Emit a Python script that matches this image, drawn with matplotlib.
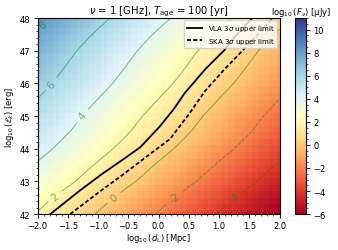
import numpy as np
import matplotlib
matplotlib.use('Agg')
import matplotlib.pyplot as plt
from matplotlib.lines import Line2D

# log10 flux [uJy] at d_L = 1 Mpc, read along the energy axis
log_E = np.round(np.arange(42.0, 48.01, 0.2), 1)
log_F_1Mpc = np.array([-2.10, -1.86, -1.62, -1.35, -1.05, -0.75, -0.51, -0.27,
                       -0.02, 0.24, 0.50, 0.72, 0.94, 1.14, 1.30, 1.47, 1.67,
                       1.87, 2.07, 2.28, 2.48, 2.65, 2.82, 2.98, 3.14, 3.30,
                       3.50, 3.70, 3.92, 4.16, 4.40])
log_d = np.round(np.arange(-2.0, 2.01, 0.1), 1)

# upper-limit curves (log d_L, log E)
vla_d = [-1.79, -1.30, -0.94, -0.55, -0.30, 0.02, 0.25, 0.44, 0.78, 1.10, 1.20, 1.55]
vla_E = [42.0, 42.72, 43.22, 43.72, 44.05, 44.68, 45.21, 45.72, 46.45, 47.04, 47.30, 48.0]
ska_d = [-1.46, -1.00, -0.58, -0.14, 0.19, 0.50, 0.77, 1.10, 1.46, 1.89]
ska_E = [42.0, 42.65, 43.22, 43.84, 44.30, 45.05, 45.77, 46.45, 47.14, 48.0]

levels = [-4, -2, 0, 2, 4, 6, 8]

# flux drops as d_L^-2
flux = log_F_1Mpc[:, None] - 2.0 * log_d[None, :]

plt.rcParams['font.size'] = 6
fig = plt.figure(figsize=(3.38, 2.51), dpi=100)
ax = fig.add_axes([0.111, 0.143, 0.716, 0.781])
cax = fig.add_axes([0.873, 0.143, 0.033, 0.781])

mesh = ax.pcolormesh(log_d, log_E, flux, cmap='RdYlBu', vmin=-6, vmax=11,
                     shading='nearest')
cs = ax.contour(log_d, log_E, flux, levels=levels, colors='g', alpha=0.5,
                linewidths=0.7)
ax.clabel(cs, fmt='%d', fontsize=7.5,
          manual=[(-1.85, 47.66), (-1.77, 45.98), (-1.25, 45.0), (-1.69, 42.5),
                  (-0.74, 42.5), (0.25, 42.55), (1.26, 42.5)])

ax.plot(vla_d, vla_E, c='k', lw=1.3)
ax.plot(ska_d, ska_E, c='k', lw=1.3, ls='--', dashes=(2.2, 1.3))

ax.set_xlim(-2, 2)
ax.set_ylim(42, 48)
ax.minorticks_on()
ax.tick_params(which='major', length=3, width=0.6, pad=2)
ax.tick_params(which='minor', length=1.5, width=0.5)
ax.set_xlabel(r'$\log_{10}(d_{\rm L})$ [Mpc]', labelpad=1)
ax.set_ylabel(r'$\log_{10}(\mathcal{E}_k)$ [erg]', labelpad=3)
ax.set_title(r'$\nu$ = 1 [GHz], $T_{\rm age}$ = 100 [yr]', pad=3)

handles = [Line2D([], [], c='k', lw=1.3),
           Line2D([], [], c='k', lw=1.3, ls='--', dashes=(2.2, 1.3))]
ax.legend(handles, [r'VLA 3$\sigma$ upper limit', r'SKA 3$\sigma$ upper limit'],
          loc='upper right', fontsize=5, handlelength=2.2, borderpad=0.4,
          labelspacing=0.4, borderaxespad=0.3)

cb = fig.colorbar(mesh, cax=cax)
cb.set_ticks(np.arange(-6, 11, 2))
cb.ax.minorticks_on()
cb.ax.tick_params(which='major', length=3, width=0.6, pad=2)
cb.ax.tick_params(which='minor', length=1.5, width=0.5)
cb.ax.set_title(r'$\log_{10}(F_\nu)$ [μJy]', fontsize=6, pad=3)

plt.savefig('out.png', dpi=100)
